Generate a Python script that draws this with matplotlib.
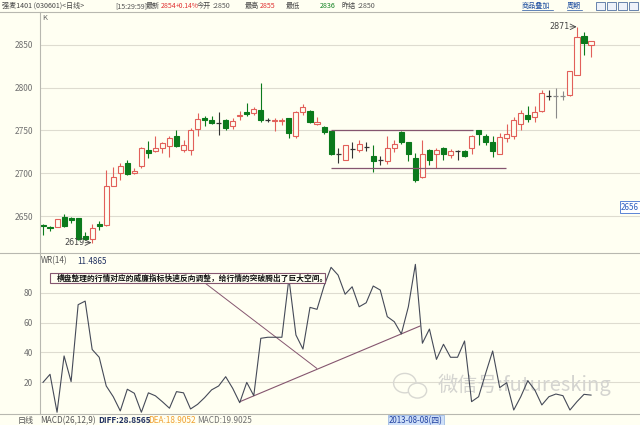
import numpy as np
import matplotlib
matplotlib.use("Agg")
import matplotlib.pyplot as plt
from matplotlib.patches import Rectangle, Ellipse

plt.rcParams['font.family'] = ['Noto Sans CJK SC', 'DejaVu Sans']
NARROW = ['Liberation Sans Narrow', 'Noto Sans CJK SC', 'DejaVu Sans']

# ---------------- data ----------------
opens = [2640, 2637, 2637, 2649, 2648, 2648, 2627, 2623, 2641, 2640,
         2685, 2700, 2712, 2700, 2709, 2727, 2726, 2729, 2732, 2744,
         2727, 2727, 2752, 2764, 2762, 2759, 2762, 2755, 2767, 2772,
         2770, 2774, 2762, 2761, 2761, 2764, 2744, 2771, 2773, 2757,
         2754, 2749, 2722, 2715, 2728, 2727, 2731, 2720, 2716, 2714,
         2729, 2748, 2737, 2718, 2696, 2727, 2723, 2729, 2721, 2726,
         2726, 2730, 2750, 2744, 2736, 2723, 2741, 2743, 2758, 2768,
         2766, 2773, 2790, 2790, 2790, 2791, 2815, 2860, 2850]
highs = [2641, 2638, 2647, 2653, 2649, 2648, 2631, 2641, 2644, 2704,
         2707, 2712, 2715, 2706, 2731, 2738, 2743, 2737, 2743, 2751,
         2739, 2753, 2770, 2767, 2767, 2772, 2763, 2764, 2773, 2782,
         2777, 2805, 2764, 2764, 2765, 2765, 2773, 2781, 2774, 2766,
         2755, 2749, 2729, 2733, 2736, 2739, 2737, 2733, 2720, 2744,
         2739, 2749, 2737, 2724, 2739, 2728, 2730, 2731, 2728, 2727,
         2727, 2745, 2751, 2746, 2744, 2747, 2758, 2766, 2774, 2779,
         2778, 2797, 2797, 2800, 2796, 2820, 2871, 2865, 2855]
lows = [2628, 2633, 2637, 2637, 2642, 2622, 2622, 2619, 2634, 2639,
        2685, 2692, 2698, 2699, 2706, 2718, 2725, 2724, 2719, 2731,
        2725, 2721, 2744, 2755, 2757, 2745, 2751, 2752, 2762, 2767,
        2768, 2760, 2760, 2749, 2756, 2741, 2741, 2768, 2759, 2756,
        2746, 2721, 2712, 2715, 2718, 2725, 2726, 2702, 2710, 2711,
        2725, 2734, 2714, 2690, 2695, 2710, 2706, 2715, 2718, 2716,
        2719, 2723, 2733, 2733, 2719, 2722, 2737, 2740, 2751, 2760,
        2760, 2772, 2786, 2764, 2786, 2790, 2815, 2838, 2836]
closes = [2638, 2636, 2647, 2638, 2646, 2623, 2623, 2636, 2639, 2685,
          2696, 2708, 2699, 2703, 2730, 2724, 2729, 2735, 2741, 2732,
          2733, 2750, 2763, 2762, 2759, 2759, 2753, 2761, 2768, 2769,
          2775, 2762, 2762, 2762, 2762, 2747, 2771, 2777, 2760, 2760,
          2748, 2723, 2722, 2733, 2728, 2734, 2731, 2714, 2716, 2730,
          2734, 2736, 2723, 2692, 2723, 2716, 2727, 2722, 2726, 2726,
          2720, 2743, 2746, 2736, 2726, 2742, 2746, 2762, 2770, 2763,
          2771, 2794, 2790, 2790, 2790, 2819, 2859, 2852, 2854]
wr = [20, 25.4, 0, 37.7, 20.5, 72, 74.4, 42, 36.8, 17.6,
      10.4, 0.9, 15.4, 12.7, 0, 13, 11, 7, 2.7, 13.8,
      13, 2.2, 5.3, 9.8, 15, 17.6, 23.8, 16, 6.4, 20,
      11.1, 49.5, 50.2, 50.2, 50.2, 89.6, 51.7, 42.3, 70.2, 68.9,
      84.5, 97, 91.8, 79, 84, 70.6, 73.3, 84.5, 81.8, 64,
      60.6, 52.4, 70.6, 99, 46.2, 55.7, 35.4, 45.5, 36.8, 36.8,
      47.7, 7.1, 10.4, 26, 41, 16.5, 19.8, 1.5, 10.4, 21.1,
      14.9, 4.9, 10.4, 12.2, 11.1, 1.5, 7.1, 12, 11.4865]
price_ticks = [2650, 2700, 2750, 2800, 2850]
wr_ticks = [20, 40, 60, 80]
range_top, range_bottom = 2751, 2706

# ---------------- style ----------------
W, H = 640, 425
BG = '#fffff2'
RED = '#e2605a'
GREEN = '#0b7a1c'
GRID = '#dedcd0'
AXC = '#b8b8b0'
MAUVE = '#85566f'

fig = plt.figure(figsize=(W / 100, H / 100), dpi=100, facecolor=BG)

def box(x0, y0, x1, y1):
    return [x0 / W, 1 - y1 / H, (x1 - x0) / W, (y1 - y0) / H]

def fx(px):
    return px / W

def fy(py):
    return 1 - py / H

n = len(opens)
x = np.arange(n)
step = 7.026
x_left = (40 - 43) / step
x_right = (640 - 43) / step

# ---------------- price panel ----------------
ax = fig.add_axes(box(40, 12, 640, 252), facecolor=BG)
ax.set_xlim(x_left, x_right)
ax.set_ylim(2608.1, 2888.3)
for s in ax.spines.values():
    s.set_visible(False)
ax.set_xticks([])
ax.set_yticks(price_ticks)
ax.tick_params(axis='y', length=0, pad=5, labelsize=6, labelcolor='#707070')
for lab in ax.get_yticklabels():
    lab.set_family(NARROW)
for t in price_ticks:
    ax.axhline(t, color=GRID, lw=0.8, zorder=0)

o = np.array(opens, float); h = np.array(highs, float)
l = np.array(lows, float); c = np.array(closes, float)
gray_idx = {73, 74}
wick_cols = []
for i in range(n):
    if i in gray_idx:
        wick_cols.append('#8a8a8a')
    elif c[i] > o[i]:
        wick_cols.append(RED)
    elif c[i] < o[i]:
        wick_cols.append(GREEN)
    else:
        wick_cols.append('#333333')
ax.vlines(x, l, h, colors=wick_cols, lw=0.8, zorder=2)
bw = 0.72
up = c > o
dn = c < o
eq = c == o
ax.bar(x[up], (c - o)[up], bottom=o[up], width=bw, facecolor=BG,
       edgecolor=RED, lw=0.8, zorder=3)
ax.bar(x[dn], (o - c)[dn], bottom=c[dn], width=bw, facecolor=GREEN,
       edgecolor=GREEN, lw=0.8, zorder=3)
ax.hlines(c[eq], x[eq] - bw / 2, x[eq] + bw / 2,
          colors=[wick_cols[i] for i in np.where(eq)[0]], lw=0.9, zorder=3)

# consolidation range lines
ax.hlines(range_top, 41.0, 61.2, colors=MAUVE, lw=0.9, zorder=4)
ax.hlines(range_bottom, 41.0, 65.9, colors=MAUVE, lw=0.9, zorder=4)

# high / low labels
imax = int(np.argmax(h)); imin = int(np.argmin(l))
ax.annotate('', xy=(imax - 0.05, h[imax]), xytext=(imax - 1.0, h[imax]),
            arrowprops=dict(arrowstyle='->', lw=0.6, color='#444444',
                            shrinkA=0, shrinkB=0))
ax.text(imax - 1.1, h[imax], f'{int(h[imax])}', ha='right', va='center',
        fontsize=5.8, color='#444444', family='DejaVu Sans')
ax.annotate('', xy=(imin - 0.1, l[imin]), xytext=(imin - 1.0, l[imin]),
            arrowprops=dict(arrowstyle='->', lw=0.6, color='#444444',
                            shrinkA=0, shrinkB=0))
ax.text(imin - 1.1, l[imin], f'{int(l[imin])}', ha='right', va='center',
        fontsize=5.8, color='#444444', family='DejaVu Sans')

# ---------------- WR panel ----------------
ax2 = fig.add_axes(box(40, 253, 640, 413), facecolor=BG)
ax2.set_xlim(x_left, x_right)
ax2.set_ylim(-0.5, 106.6)
for s in ax2.spines.values():
    s.set_visible(False)
ax2.set_xticks([])
ax2.set_yticks(wr_ticks)
ax2.tick_params(axis='y', length=0, pad=5, labelsize=6, labelcolor='#707070')
for lab in ax2.get_yticklabels():
    lab.set_family(NARROW)
for t in wr_ticks:
    ax2.axhline(t, color=GRID, lw=0.8, zorder=0)
ax2.plot(x, wr, color='#454a58', lw=0.8, zorder=3)

# trend lines
ax2.plot([23.06, 38.96], [86.5, 29.4], color=MAUVE, lw=0.7, zorder=2)
ax2.plot([28.04, 53.66], [7.1, 57.7], color=MAUVE, lw=0.8, zorder=2)

# annotation box
ax2.add_patch(Rectangle((1.0, 86.3), 39.1, 7.1, facecolor=BG,
                        edgecolor=MAUVE, lw=0.8, zorder=4))
ax2.text(1.9, 89.9, '横盘整理的行情对应的威廉指标快速反向调整，给行情的突破腾出了巨大空间。',
         fontsize=5.55, va='center', ha='left', color='#111111', zorder=5,
         fontweight='bold')

# watermark (WeChat bubbles + text)
ax2.add_patch(Ellipse((51.5, 19.5), 3.2, 13, facecolor='none',
                      edgecolor='#d8d8d2', lw=1.0, zorder=1))
ax2.add_patch(Ellipse((53.3, 14.5), 2.6, 10, facecolor=BG,
                      edgecolor='#d8d8d2', lw=1.0, zorder=1))
ax2.text(56.1, 18.5, '微信号:futuresking', fontsize=14.5, color='#d4d4d0',
         va='center', ha='left', zorder=1)

# ---------------- frame lines ----------------
def fline(x0, y0, x1, y1, color=AXC, lw=0.8):
    fig.add_artist(plt.Line2D([fx(x0), fx(x1)], [fy(y0), fy(y1)],
                              color=color, lw=lw))

fline(0, 11.5, 640, 11.5)
fline(0, 252.5, 640, 252.5)
fline(0, 413.5, 640, 413.5)
fline(40, 11.5, 40, 413.5)

# ---------------- header ----------------
hy = fy(6)
fs = 5.1

def htext(px, s, color='#444444', size=fs):
    fig.text(fx(px), hy, s, fontsize=size, color=color, va='center',
             family=NARROW)

htext(2, '强麦1401 (030601)<日线>')
htext(115, '[15:29:59]', '#555555')
htext(146, '最新')
htext(161, '2854', '#e03030')
htext(175.5, '+0.14%', '#e03030', 4.8)
htext(197, '今开')
htext(212, ':2850', '#555555')
htext(245, '最高')
htext(260, '2855', '#e03030')
htext(286, '最低')
htext(320, '2836', '#108020')
htext(341, '昨结')
htext(357, ':2850', '#555555')
htext(522, '商品叠加', '#2050a0')
htext(567, '周期', '#2050a0')
fline(522, 10, 553, 10, color='#2050a0', lw=0.5)
fline(567, 10, 582, 10, color='#2050a0', lw=0.5)
for bx in [596, 607, 618, 629]:
    fig.add_artist(Rectangle((fx(bx), fy(10)), 9 / W, 8 / H, facecolor='#eef2fa',
                             edgecolor='#5070a0', lw=0.6))
fig.text(fx(42), fy(18.5), 'K', fontsize=5.5, color='#666666', va='center')

# right-side price tag
fig.text(fx(621), fy(207), '2656', fontsize=5.8, color='#3060c0', va='center',
         ha='left', bbox=dict(boxstyle='square,pad=0.15', facecolor='#ffffff',
                              edgecolor='#4070d0', lw=0.6))

# WR title
fig.text(fx(41), fy(261), 'WR(14)', fontsize=5.8, color='#555555', va='center')
fig.text(fx(77), fy(261), f'{wr[-1]:.4f}', fontsize=5.8, color='#203060', va='center')

# bottom row
by = fy(420.5)
fig.text(fx(18), by, '日线', fontsize=5.8, color='#555555', va='center')
fig.text(fx(40), by, 'MACD(26,12,9)', fontsize=5.9, color='#555555', va='center')
fig.text(fx(98), by, 'DIFF:28.8565', fontsize=5.9, color='#203060', va='center',
         fontweight='bold')
fig.text(fx(148), by, 'DEA:18.9052', fontsize=5.9, color='#f0a030', va='center')
fig.text(fx(197), by, 'MACD:19.9025', fontsize=5.9, color='#707070', va='center')
fig.text(fx(389), by, '2013-08-08(四)', fontsize=5.7, color='#2040a0', va='center',
         bbox=dict(boxstyle='square,pad=0.12', facecolor='#cfe0f8',
                   edgecolor='#90b0e0', lw=0.5))

fig.savefig('out.png', dpi=100, facecolor=BG)
